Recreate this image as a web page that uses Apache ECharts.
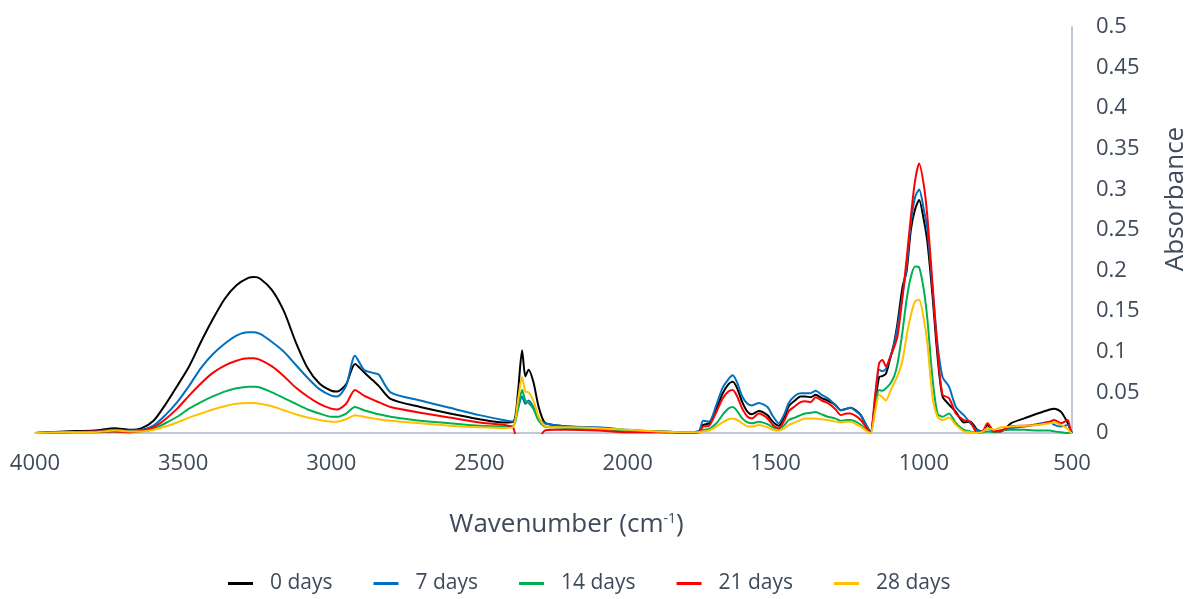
<!DOCTYPE html>
<html>
<head>
<meta charset="utf-8">
<script src="https://cdn.jsdelivr.net/npm/echarts@6/dist/echarts.min.js"></script>
<style>html,body{margin:0;padding:0;background:#fff;overflow:hidden;}#c{width:1188px;height:599px;}</style>
</head>
<body>
<div id="c"></div>
<script>
// Wavenumbers (cm-1)
const wavenumbers = [
 4000,3900,3800,3730,3680,3640,3600,3560,3520,3480,
 3440,3400,3360,3320,3280,3260,3240,3200,3160,3120,
 3080,3040,3000,2980,2950,2920,2890,2860,2840,2800,
 2700,2600,2500,2420,2385,2370,2356,2345,2334,2318,
 2300,2280,2250,2200,2100,2000,1900,1800,1760,1745,
 1725,1700,1680,1660,1645,1630,1613,1595,1580,1557,
 1528,1510,1490,1470,1456,1435,1416,1400,1382,1365,
 1345,1325,1300,1280,1260,1247,1230,1213,1195,1180,
 1165,1151,1140,1128,1115,1101,1089,1072,1058,1044,
 1030,1016,1000,988,971,954,937,915,892,865,
 843,820,800,785,763,740,706,661,616,575,
 560,537,514,503,500
];
const days0 = [
 0.000,0.002,0.003,0.006,0.004,0.006,0.015,0.035,0.058,0.082,
 0.112,0.140,0.165,0.182,0.191,0.192,0.190,0.176,0.150,0.112,
 0.080,0.061,0.052,0.051,0.060,0.085,0.075,0.065,0.058,0.042,
 0.032,0.024,0.017,0.013,0.014,0.050,0.102,0.070,0.078,0.063,
 0.032,0.013,0.010,0.008,0.006,0.003,0.002,0.001,0.002,0.010,
 0.012,0.030,0.048,0.060,0.063,0.055,0.038,0.026,0.023,0.027,
 0.022,0.014,0.009,0.020,0.033,0.040,0.045,0.045,0.044,0.047,
 0.043,0.040,0.035,0.028,0.030,0.031,0.028,0.022,0.010,0.001,
 0.035,0.069,0.070,0.073,0.090,0.110,0.135,0.180,0.200,0.250,
 0.275,0.287,0.262,0.235,0.170,0.095,0.045,0.035,0.026,0.013,
 0.014,0.004,0.002,0.010,0.002,0.002,0.012,0.018,0.024,0.029,
 0.030,0.026,0.012,0.002,0.000
];
const days7 = [
 0.000,0.001,0.002,0.004,0.003,0.004,0.009,0.022,0.038,0.058,
 0.080,0.097,0.110,0.120,0.124,0.124,0.122,0.112,0.100,0.084,
 0.068,0.054,0.046,0.045,0.058,0.095,0.078,0.074,0.072,0.050,
 0.040,0.031,0.022,0.016,0.014,0.030,0.045,0.036,0.040,0.032,
 0.018,0.012,0.010,0.008,0.007,0.004,0.002,0.001,0.002,0.015,
 0.014,0.035,0.055,0.066,0.071,0.062,0.045,0.036,0.034,0.037,
 0.032,0.021,0.012,0.024,0.037,0.046,0.049,0.049,0.049,0.052,
 0.047,0.043,0.035,0.028,0.030,0.031,0.027,0.022,0.010,0.001,
 0.040,0.078,0.076,0.079,0.092,0.108,0.130,0.170,0.205,0.258,
 0.290,0.300,0.275,0.250,0.180,0.110,0.069,0.057,0.032,0.022,
 0.012,0.003,0.002,0.006,0.002,0.003,0.006,0.008,0.011,0.014,
 0.010,0.008,0.010,0.002,0.000
];
const days14 = [
 0.000,0.001,0.001,0.002,0.001,0.002,0.005,0.012,0.020,0.030,
 0.038,0.045,0.051,0.055,0.057,0.057,0.056,0.050,0.043,0.036,
 0.029,0.024,0.020,0.020,0.024,0.032,0.028,0.025,0.023,0.020,
 0.015,0.012,0.009,0.008,0.009,0.030,0.053,0.040,0.037,0.030,
 0.015,0.008,0.007,0.006,0.005,0.003,0.002,0.001,0.001,0.004,
 0.005,0.012,0.022,0.030,0.032,0.027,0.018,0.013,0.012,0.014,
 0.011,0.007,0.005,0.010,0.016,0.019,0.022,0.024,0.025,0.026,
 0.023,0.020,0.018,0.015,0.016,0.016,0.014,0.010,0.004,0.000,
 0.030,0.053,0.052,0.055,0.060,0.069,0.085,0.125,0.165,0.192,
 0.205,0.204,0.176,0.140,0.068,0.024,0.020,0.024,0.012,0.004,
 0.002,0.000,0.001,0.002,0.001,0.003,0.004,0.004,0.003,0.003,
 0.002,0.001,0.000,0.000,0.000
];
const days21 = [
 0.000,0.001,0.002,0.002,0.001,0.003,0.007,0.017,0.030,0.046,
 0.061,0.074,0.083,0.089,0.092,0.092,0.090,0.082,0.070,0.056,
 0.045,0.036,0.030,0.029,0.036,0.053,0.046,0.041,0.038,0.032,
 0.025,0.019,0.013,0.010,0.006,-0.030,-0.050,-0.050,-0.050,-0.030,
 -0.010,0.003,0.004,0.004,0.003,0.001,0.001,0.000,0.001,0.008,
 0.009,0.026,0.042,0.051,0.053,0.045,0.030,0.020,0.018,0.024,
 0.018,0.010,0.006,0.016,0.027,0.033,0.038,0.039,0.038,0.044,
 0.040,0.037,0.030,0.022,0.024,0.024,0.021,0.016,0.007,0.001,
 0.045,0.086,0.090,0.082,0.092,0.105,0.119,0.168,0.215,0.266,
 0.310,0.332,0.305,0.266,0.184,0.102,0.047,0.043,0.024,0.016,
 0.014,0.000,0.003,0.012,0.002,0.003,0.008,0.009,0.010,0.014,
 0.016,0.012,0.016,-0.005,-0.010
];
const days28 = [
 0.000,0.001,0.001,0.003,0.002,0.002,0.004,0.008,0.013,0.019,
 0.024,0.029,0.033,0.036,0.037,0.037,0.036,0.033,0.028,0.023,
 0.019,0.016,0.014,0.014,0.017,0.022,0.020,0.018,0.017,0.015,
 0.012,0.009,0.007,0.006,0.008,0.040,0.069,0.051,0.050,0.040,
 0.020,0.009,0.007,0.007,0.006,0.004,0.002,0.001,0.001,0.002,
 0.003,0.008,0.013,0.017,0.018,0.016,0.012,0.008,0.008,0.010,
 0.007,0.004,0.003,0.006,0.010,0.013,0.016,0.018,0.018,0.018,
 0.017,0.016,0.014,0.013,0.014,0.014,0.011,0.008,0.003,0.000,
 0.025,0.047,0.044,0.040,0.050,0.061,0.070,0.090,0.120,0.145,
 0.162,0.164,0.140,0.110,0.045,0.020,0.016,0.019,0.010,0.002,
 0.001,0.000,0.002,0.006,0.004,0.007,0.008,0.009,0.010,0.012,
 0.013,0.010,0.005,0.000,0.000
];
const seriesNames = ['0 days','7 days','14 days','21 days','28 days'];
const seriesValues = [days0, days7, days14, days21, days28];
const seriesColors = ['#000000','#0070C0','#00B050','#FF0000','#FFC000'];
const xTicks = [500, 4000, 500]; // min, max, interval
const yTicks = [0, 0.5, 0.05];

const chart = echarts.init(document.getElementById('c'));
const font = 'Open Sans';
const textColor = '#3F4A5A';
chart.setOption({
  animation: false,
  backgroundColor: '#ffffff',
  grid: {left: 35, right: 116, top: 27, bottom: 166, containLabel: false, outerBoundsMode: 'none'},
  legend: {
    top: 568, left: 223,
    data: seriesNames,
    icon: 'rect', itemWidth: 25, itemHeight: 3, itemGap: 41,
    textStyle: {fontFamily: font, fontSize: 21, color: textColor, padding: [0,0,0,12]}
  },
  xAxis: {
    type: 'value', inverse: true,
    min: xTicks[0], max: xTicks[1], interval: xTicks[2],
    axisLine: {show: true, onZero: false, lineStyle: {color: '#BFC8D6', width: 2}},
    axisTick: {show: false},
    splitLine: {show: false},
    axisLabel: {fontFamily: font, fontSize: 22, color: textColor, margin: 20,
      formatter: v => String(v)},
    name: 'Wavenumber (cm{sup|-1})',
    nameLocation: 'middle', nameGap: 79,
    nameTextStyle: {fontFamily: font, fontSize: 26, color: textColor, padding: [0,0,0,26],
      rich: {sup: {fontFamily: font, fontSize: 14, color: textColor, verticalAlign: 'top', padding: [0,0,12,0]}}}
  },
  yAxis: {
    type: 'value', position: 'right',
    min: yTicks[0], max: yTicks[1], interval: yTicks[2],
    axisLine: {show: true, onZero: false, lineStyle: {color: '#BFC8D6', width: 2}},
    axisTick: {show: false},
    splitLine: {show: false},
    axisLabel: {fontFamily: font, fontSize: 22, color: textColor, margin: 24,
      formatter: v => String(+v.toFixed(2))},
    name: 'Absorbance', nameLocation: 'middle', nameGap: 91, nameRotate: 90,
    nameTextStyle: {fontFamily: font, fontSize: 26, color: textColor, padding: [0,0,0,62]}
  },
  series: seriesNames.map((n, i) => ({
    name: n, type: 'line', showSymbol: false, symbol: 'none',
    clip: true, smooth: 0.25,
    lineStyle: {color: seriesColors[i], width: 2},
    itemStyle: {color: seriesColors[i]},
    data: wavenumbers.map((w, j) => [w, seriesValues[i][j]])
  }))
});
</script>
</body>
</html>
